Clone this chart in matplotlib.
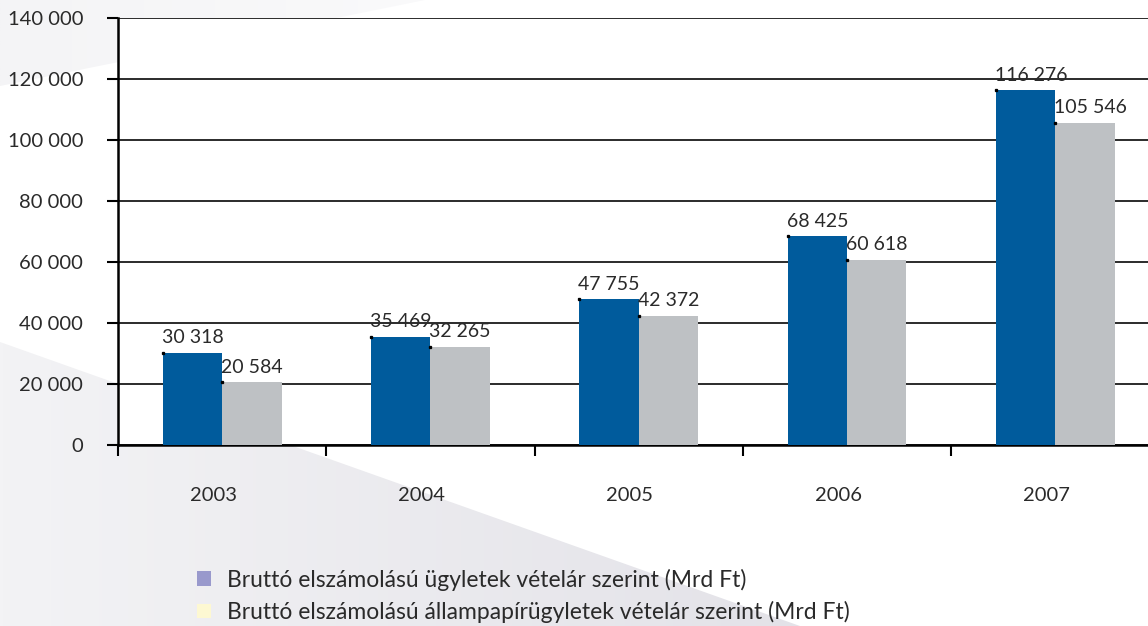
import numpy as np
import matplotlib
matplotlib.use("Agg")
import matplotlib.pyplot as plt
from matplotlib.patches import Polygon, Patch
from matplotlib.ticker import FuncFormatter
from matplotlib.transforms import ScaledTranslation

years = ["2003", "2004", "2005", "2006", "2007"]
brutto = [30318, 35469, 47755, 68425, 116276]
allampapir = [20584, 32265, 42372, 60618, 105546]
legend_labels = ["Bruttó elszámolású ügyletek vételár szerint (Mrd Ft)",
                 "Bruttó elszámolású állampapírügyletek vételár szerint (Mrd Ft)"]

plt.rcParams["font.family"] = ["Lato", "DejaVu Sans"]
txt = "#2a2a2a"

W, H = 1148, 626
fig = plt.figure(figsize=(W / 100, H / 100), dpi=100)
fig.patch.set_facecolor("white")

# background shapes, pixel coords
bg = fig.add_axes([0, 0, 1, 1], zorder=0)
bg.set_xlim(0, W)
bg.set_ylim(H, 0)
bg.axis("off")
grad = np.linspace(0, 1, 256).reshape(1, -1)
cm1 = matplotlib.colors.LinearSegmentedColormap.from_list("g", ["#f3f3f5", "#e3e2e8"])
im = bg.imshow(grad, extent=(0, 820, 626, 330), cmap=cm1, aspect="auto", zorder=0)
poly = Polygon([(0, 342), (0, 626), (800, 626)], closed=True, transform=bg.transData,
               facecolor="none", edgecolor="none")
bg.add_patch(poly)
im.set_clip_path(poly)
cm2 = matplotlib.colors.LinearSegmentedColormap.from_list("g2", ["#f4f4f6", "#fafafb"])
im2 = bg.imshow(grad, extent=(0, 430, 90, 0), cmap=cm2, aspect="auto", zorder=0)
poly2 = Polygon([(0, 0), (0, 86), (425, 0)], closed=True, transform=bg.transData,
                facecolor="none", edgecolor="none")
bg.add_patch(poly2)
im2.set_clip_path(poly2)

ax = fig.add_axes([118 / W, 1 - 445 / H, 1 - 118 / W, (445 - 18) / H], zorder=1)
ax.set_facecolor("white")

x = np.arange(len(years))
bw = 0.285
blue = "#005b9c"
grey = "#bec1c4"
b1 = ax.bar(x - bw / 2, brutto, bw, color=blue, zorder=3)
b2 = ax.bar(x + bw / 2, allampapir, bw, color=grey, zorder=3)

fmt = lambda v, p=None: f"{int(v):,}".replace(",", " ")
for bars, vals in ((b1, brutto), (b2, allampapir)):
    for r, v in zip(bars, vals):
        ax.plot(r.get_x(), v, marker="s", ms=1.4, color="black", zorder=4)
        ax.text(r.get_x() - 0.005, v + 2200, fmt(v), ha="left", va="bottom", fontsize=14, color=txt)

ax.set_yticks(np.arange(0, 140001, 20000))
ax.yaxis.set_major_formatter(FuncFormatter(fmt))
ax.grid(axis="y", color="#1a1a1a", lw=1.3, zorder=1)
ax.set_xticks(x)
ax.set_xticklabels(years)
ax.set_xticks(np.arange(-0.5, 4, 1), minor=True)
ax.set_ylim(0, 140000)
ax.set_xlim(-0.5, 4.445)
ax.tick_params(axis="x", which="major", length=0, pad=30, labelsize=14.5, labelcolor=txt)
ax.tick_params(axis="x", which="minor", length=8, width=1.5, direction="out", color="black")
ax.tick_params(axis="y", length=8, width=1.5, pad=17, labelsize=14.5, labelcolor=txt)
shift = ScaledTranslation(-9 / 100, 0, fig.dpi_scale_trans)
for lab in ax.get_xticklabels():
    lab.set_transform(lab.get_transform() + shift)
for s in ("top", "right"):
    ax.spines[s].set_visible(False)
ax.spines["left"].set_linewidth(1.8)
ax.spines["bottom"].set_linewidth(1.8)

handles = [Patch(facecolor="#9999cc"), Patch(facecolor="#fdf8d2")]
fig.legend(handles, legend_labels, loc="upper left", bbox_to_anchor=(186 / W, 1 - 557 / H),
           frameon=False, fontsize=16.5, handlelength=0.6, handleheight=0.6,
           handletextpad=0.7, labelspacing=0.45, borderpad=0, labelcolor=txt)

fig.savefig("out.png", dpi=100)
